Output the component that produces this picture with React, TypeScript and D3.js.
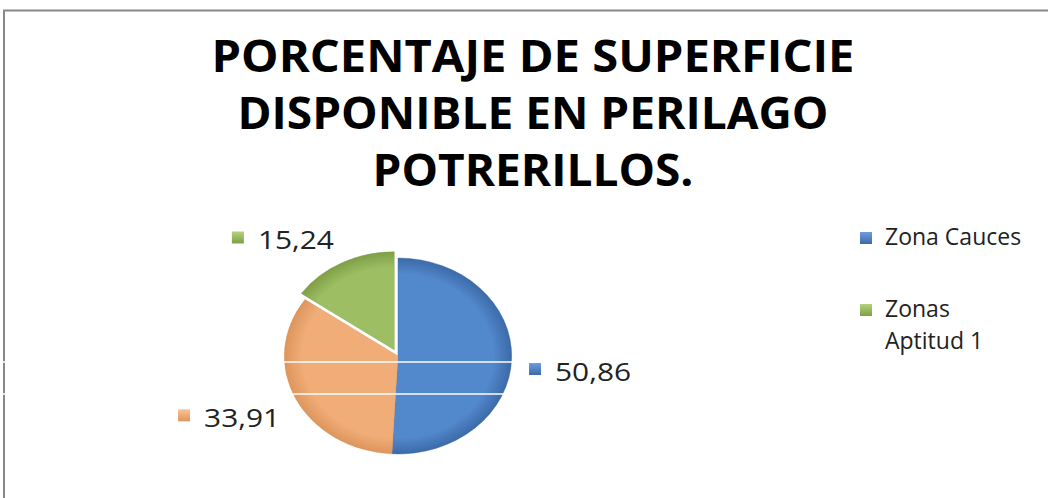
import { useEffect, useRef } from 'react';
import * as d3 from 'd3';

const titleLines = ['PORCENTAJE DE SUPERFICIE', 'DISPONIBLE EN PERILAGO', 'POTRERILLOS.'];
const categories = ['Zona Cauces', 'Zona 2', 'Zonas Aptitud 1'];
const values = [50.86, 33.91, 15.24];
const valueLabels = ['50,86', '33,91', '15,24'];
const legendItems = [
  { name: 'Zona Cauces', lines: ['Zona Cauces'], idx: 0 },
  { name: 'Zonas Aptitud 1', lines: ['Zonas', 'Aptitud 1'], idx: 2 },
];

const colors = [
  { light: '#6f9be0', mid: '#5288cc', dark: '#3c6aa8' },
  { light: '#f8c296', mid: '#f1ad78', dark: '#dd955c' },
  { light: '#b3d27a', mid: '#9dbe62', dark: '#7f9f47' },
];

const W = 1048;
const H = 498;

const App = () => {
  const svgRef = useRef<SVGSVGElement>(null);

  useEffect(() => {
    const svg = d3.select(svgRef.current);
    svg.selectAll('*').remove();

    const defs = svg.append('defs');
    colors.forEach((c, i) => {
      const g = defs.append('radialGradient')
        .attr('id', `pie${i}`)
        .attr('cx', '0').attr('cy', '0').attr('r', '98')
        .attr('gradientUnits', 'userSpaceOnUse');
      g.append('stop').attr('offset', '0%').attr('stop-color', c.mid);
      g.append('stop').attr('offset', '84%').attr('stop-color', c.mid);
      g.append('stop').attr('offset', '100%').attr('stop-color', c.dark);
      const m = defs.append('linearGradient')
        .attr('id', `mk${i}`)
        .attr('x1', '0').attr('y1', '0').attr('x2', '0').attr('y2', '1');
      m.append('stop').attr('offset', '0%').attr('stop-color', c.light);
      m.append('stop').attr('offset', '100%').attr('stop-color', c.dark);
    });

    svg.append('rect').attr('width', W).attr('height', H).attr('fill', '#fff');

    // frame
    svg.append('path')
      .attr('d', `M4,${H} V10.5 H${W}`)
      .attr('fill', 'none')
      .attr('stroke', '#888')
      .attr('stroke-width', 2);

    // title
    const titleWidths = [643, 591, 321];
    svg.append('g')
      .selectAll('text')
      .data(titleLines)
      .join('text')
      .attr('x', 533)
      .attr('y', (d, i) => 72 + i * 57)
      .attr('text-anchor', 'middle')
      .attr('font-family', 'Open Sans, sans-serif')
      .attr('font-weight', 'bold')
      .attr('font-size', 45)
      .attr('fill', '#000')
      .attr('textLength', (d, i) => titleWidths[i])
      .attr('lengthAdjust', 'spacingAndGlyphs')
      .text(d => d);

    // pie
    const cx = 398;
    const cy = 356;
    const r = 98;
    const sx = 1.16;
    const pie = d3.pie<number>().sort(null).value(d => d);
    const arcs = pie(values);
    const arc = d3.arc<d3.PieArcDatum<number>>().innerRadius(0).outerRadius(r);
    const explode = [0, 0, 7];

    const pg = svg.append('g').attr('transform', `translate(${cx},${cy}) scale(${sx},1)`);
    pg.selectAll('path')
      .data(arcs)
      .join('path')
      .attr('transform', (d, i) => {
        const a = (d.startAngle + d.endAngle) / 2;
        return `translate(${Math.sin(a) * explode[i]},${-Math.cos(a) * explode[i]})`;
      })
      .attr('d', arc)
      .attr('fill', (d, i) => `url(#pie${i})`)
      .attr('stroke', (d, i) => colors[i].dark)
      .attr('stroke-opacity', 0.5)
      .attr('stroke-width', 0.8);

    // data labels
    const labelR = 113;
    const lg = svg.append('g');
    arcs.forEach((d, i) => {
      const a = (d.startAngle + d.endAngle) / 2;
      const ax = cx + Math.sin(a) * (labelR + explode[i]) * sx;
      const ay = cy - Math.cos(a) * (labelR + explode[i]) + (i === 2 ? -10 : 12);
      const g = lg.append('g');
      const t = g.append('text')
        .attr('font-family', 'Open Sans, sans-serif')
        .attr('font-size', 26)
        .attr('fill', '#222')
        .attr('y', 10)
        .attr('textLength', 76)
        .attr('lengthAdjust', 'spacingAndGlyphs')
        .text(valueLabels[i]);
      const tw = 76;
      const total = 12 + 14 + tw;
      const x0 = Math.sin(a) >= 0 ? ax : ax - total;
      g.attr('transform', `translate(${x0},${ay})`);
      g.append('rect')
        .attr('x', 0).attr('y', -8).attr('width', 12).attr('height', 12)
        .attr('fill', `url(#mk${i})`);
      t.attr('x', 26);
    });

    // legend
    const leg = svg.append('g').attr('transform', 'translate(860,0)');
    const legendY = [245, 317];
    legendItems.forEach((item, k) => {
      const g = leg.append('g').attr('transform', `translate(0,${legendY[k]})`);
      g.append('rect')
        .attr('x', 0).attr('y', -13).attr('width', 12).attr('height', 12)
        .attr('fill', `url(#mk${item.idx})`);
      g.selectAll('text')
        .data(item.lines)
        .join('text')
        .attr('x', 25)
        .attr('y', (d, j) => j * 32)
        .attr('font-family', 'Open Sans, sans-serif')
        .attr('font-size', 23)
        .attr('fill', '#222')
        .text(d => d);
    });

    // scan artifacts
    const artifactY = [362, 394];
    svg.append('g')
      .selectAll('line')
      .data(artifactY)
      .join('line')
      .attr('x1', 0).attr('x2', 515)
      .attr('y1', d => d).attr('y2', d => d)
      .attr('stroke', '#fff')
      .attr('stroke-width', 1.5);
  }, []);

  return (
    <svg
      ref={svgRef}
      width={W}
      height={H}
      style={{ position: 'absolute', left: 0, top: 0 }}
    />
  );
};

export default App;
